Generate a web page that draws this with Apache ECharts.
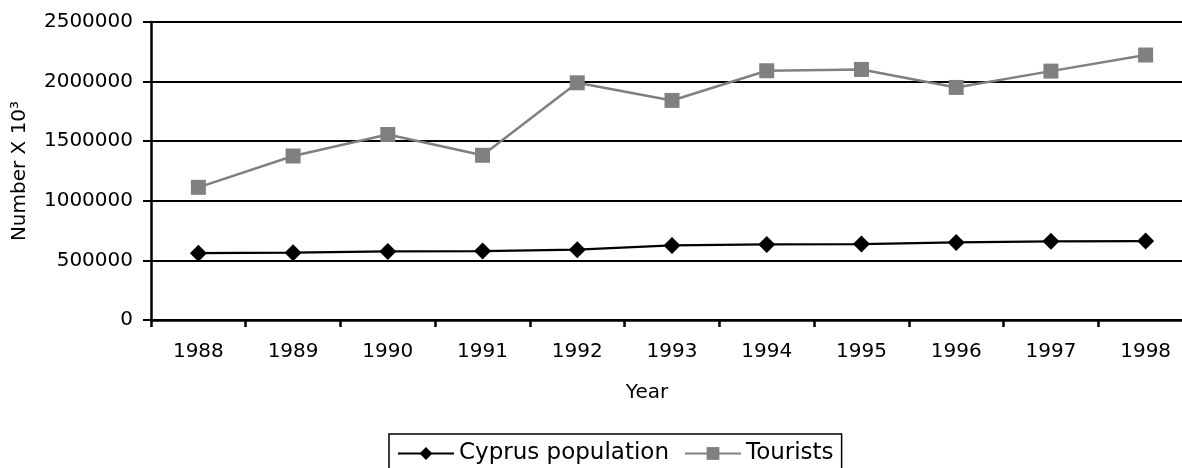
<!DOCTYPE html>
<html>
<head>
<meta charset="utf-8">
<script src="https://cdn.jsdelivr.net/npm/echarts@6/dist/echarts.min.js"></script>
<style>
    html, body { margin: 0; padding: 0; background: #ffffff; }
    #main { width: 1182px; height: 468px; }
</style>
</head>
<body>
<div id="main"></div>
<script>
// 数据
var years = ['1988', '1989', '1990', '1991', '1992', '1993', '1994', '1995', '1996', '1997', '1998'];
var population = [561000, 565000, 575000, 578000, 590000, 626000, 634000, 637000, 651000, 660000, 662000];
var tourists = [1113000, 1376000, 1556000, 1382000, 1990000, 1842000, 2091000, 2102000, 1951000, 2088000, 2223000];
var yTicks = [0, 500000, 1000000, 1500000, 2000000, 2500000];

var font = 'DejaVu Sans';
var chart = echarts.init(document.getElementById('main'), null, {renderer: 'canvas'});

var option = {
    backgroundColor: '#ffffff',
    animation: false,
    title: {
        text: 'Year',
        left: 642,
        top: 378,
        textAlign: 'center',
        textStyle: {fontFamily: font, fontSize: 20, fontWeight: 'normal', color: '#000'}
    },
    grid: {
        left: 151,
        top: 22,
        width: 1042,   // the last band is cut off by the picture edge
        bottom: 148,
        containLabel: false,
        outerBoundsMode: 'none'
    },
    legend: {
        left: 389,
        top: 434,
        padding: [8, 8, 12, 8],
        itemGap: 15,
        itemWidth: 56,
        itemHeight: 16,
        borderColor: '#000',
        borderWidth: 1.5,
        textStyle: {fontFamily: font, fontSize: 23, color: '#000'},
        data: ['Cyprus population', 'Tourists']
    },
    xAxis: {
        type: 'category',
        data: years,
        boundaryGap: true,
        axisLine: {lineStyle: {color: '#000', width: 2.5}},
        axisTick: {show: true, length: 7, lineStyle: {color: '#000', width: 2.5}},
        axisLabel: {fontFamily: font, fontSize: 20, color: '#000', margin: 22}
    },
    yAxis: {
        type: 'value',
        min: yTicks[0],
        max: yTicks[yTicks.length - 1],
        interval: yTicks[1] - yTicks[0],
        name: 'Number X 10³',
        nameLocation: 'middle',
        nameGap: 121,
        nameTextStyle: {fontFamily: font, fontSize: 20, color: '#000'},
        axisLine: {show: true, lineStyle: {color: '#000', width: 2.5}},
        axisTick: {show: true, length: 8, lineStyle: {color: '#000', width: 2}},
        axisLabel: {
            fontFamily: font, fontSize: 20, color: '#000', margin: 18,
            formatter: function (v) { return String(v); }
        },
        splitLine: {show: true, lineStyle: {color: '#000', width: 2.2}}
    },
    series: [
        {
            name: 'Cyprus population',
            type: 'line',
            data: population,
            symbol: 'diamond',
            symbolSize: 17,
            itemStyle: {color: '#000'},
            lineStyle: {color: '#000', width: 2.2}
        },
        {
            name: 'Tourists',
            type: 'line',
            data: tourists,
            symbol: 'rect',
            symbolSize: 15,
            itemStyle: {color: '#808080'},
            lineStyle: {color: '#808080', width: 2.5}
        }
    ]
};
chart.setOption(option);
</script>
</body>
</html>
